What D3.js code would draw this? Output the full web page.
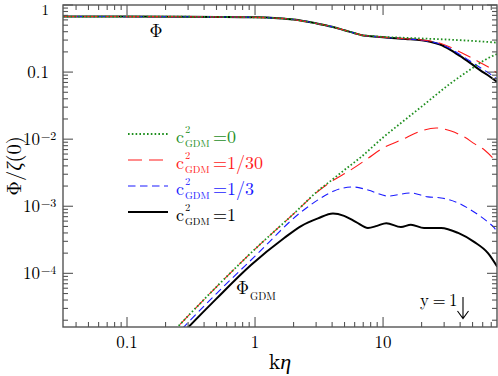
<!DOCTYPE html>
<html><head><meta charset="utf-8">
<script src="https://cdn.jsdelivr.net/npm/d3@7"></script>
<style>
body{margin:0;background:#fff}
svg{display:block}
</style>
</head><body>
<svg id="chart" width="498" height="376"></svg>
<script>
// ---------- data ----------
const seriesNames = ["c2=0", "c2=1/30", "c2=1/3", "c2=1"];
const legendValues = ["0", "1/30", "1/3", "1"];
const seriesColors = ["#1f8f1f", "#ff1a1a", "#1a1aff", "#000000"];

// Phi (upper curves)
const phiK    = [0.0316, 0.1, 0.3, 0.5, 1, 1.5, 2, 3, 4, 5, 6, 7, 8, 10, 15, 20, 23.3, 27.9, 33.3, 39.9, 47.8, 57.2, 68.4, 77.6];
const phiC0   = [0.673,0.672,0.668,0.664,0.655,0.635,0.607,0.533,0.474,0.42,0.38,0.352,0.345,0.335,0.324,0.317,0.313,0.309,0.304,0.299,0.293,0.287,0.280,0.274];
const phiC130 = [0.673,0.672,0.668,0.664,0.655,0.635,0.607,0.533,0.474,0.42,0.38,0.352,0.343,0.331,0.314,0.302,0.291,0.269,0.237,0.199,0.168,0.139,0.115,0.0969];
const phiC13  = [0.673,0.672,0.668,0.664,0.655,0.635,0.607,0.533,0.474,0.42,0.38,0.352,0.343,0.330,0.312,0.299,0.286,0.262,0.224,0.182,0.146,0.117,0.094,0.079];
const phiC1   = [0.673,0.672,0.668,0.664,0.655,0.635,0.607,0.533,0.474,0.42,0.38,0.352,0.343,0.330,0.312,0.298,0.284,0.258,0.217,0.174,0.137,0.107,0.0853,0.0719];

// Phi_GDM (lower curves)
const gdmK0 = [0.2, 0.246, 0.5, 1, 2, 3.16, 4, 5, 6.74, 10, 13.8, 20, 34, 50, 62, 78];
const gdmC0 = [1.03e-5,1.56e-5,6.3e-5,2.3e-4,7.7e-4,1.75e-3,2.48e-3,3.48e-3,5.43e-3,0.0106,0.0174,0.0306,0.0688,0.115,0.151,0.186];
const gdmK1 = [0.2, 0.246, 0.5, 1, 2, 3.16, 4, 5.6, 7.5, 10, 14, 18.8, 26, 34, 43, 52, 62, 78];
const gdmC130 = [1.03e-5,1.56e-5,6.3e-5,2.3e-4,7.7e-4,1.72e-3,2.38e-3,3.48e-3,5.07e-3,7.4e-3,9.8e-3,0.0128,0.0147,0.0132,0.0108,8.5e-3,6.9e-3,4.4e-3];
const gdmK2 = [0.2, 0.5, 1, 2.29, 3.28, 4.14, 5.83, 7.62, 10.9, 16.5, 22.4, 28.4, 38.6, 51.4, 66, 74, 78];
const gdmC13 = [8.2e-6,5.0e-5,1.8e-4,8.2e-4,1.33e-3,1.69e-3,1.94e-3,1.75e-3,1.42e-3,1.58e-3,1.38e-3,1.33e-3,1.12e-3,8.2e-4,5.8e-4,4.75e-4,4.1e-4];
const gdmK3 = [0.2, 0.3, 0.5, 0.93, 1.69, 2.29, 3.1, 4.06, 4.96, 6.16, 7.62, 8.97, 10.6, 13.8, 16.5, 20.9, 28.4, 38.6, 51.4, 66, 78];
const gdmC1 = [6.9e-6,1.56e-5,4.2e-5,1.33e-4,3.36e-4,5.07e-4,6.6e-4,7.8e-4,7.2e-4,5.8e-4,4.75e-4,5.1e-4,5.6e-4,4.9e-4,5.3e-4,4.75e-4,4.75e-4,4.0e-4,2.94e-4,2.0e-4,1.25e-4];

const xTickValues = [0.1, 1, 10];
const xTickLabels = ["0.1", "1", "10"];
const yTickValues = [1, 0.1, 1e-2, 1e-3, 1e-4];
const yTickLabels = [["1",""], ["0.1",""], ["10","\u22122"], ["10","\u22123"], ["10","\u22124"]];

// ---------- layout ----------
const FONT = "Latin Modern Roman";
const L = 63, R = 497, T = 5, B = 327;
const svg = d3.select("#chart");
const x = d3.scaleLog().domain([Math.pow(10,-1.5), Math.pow(10,1.89)]).range([L, R]);
const y = d3.scaleLog().domain([Math.pow(10,-4.8), 1]).range([B, T]);

function txt(sel, xx, yy, size, s, color){
  return sel.append("text").attr("x", xx).attr("y", yy).attr("font-family", FONT)
    .attr("font-size", size).attr("fill", color || "#000").text(s);
}

svg.append("defs").append("clipPath").attr("id","clip")
  .append("rect").attr("x",L).attr("y",T).attr("width",R-L).attr("height",B-T);

const styles = [
  {w:1.8, dash:"1.6,2.2"},
  {w:1.1, dash:"14,7"},
  {w:1.1, dash:"7.5,4.5"},
  {w:2.0, dash:null}
];

const line = d3.line().x(d=>x(d[0])).y(d=>y(d[1])).curve(d3.curveMonotoneX);
const plot = svg.append("g").attr("clip-path","url(#clip)");

const phiSets = [phiC0, phiC130, phiC13, phiC1].map(v => phiK.map((k,i)=>[k, v[i]]));
const gdmSets = [[gdmK0,gdmC0],[gdmK1,gdmC130],[gdmK2,gdmC13],[gdmK3,gdmC1]].map(([ks,vs]) => ks.map((k,i)=>[k, vs[i]]));

[3,2,1,0].forEach(i => {
  [phiSets[i], gdmSets[i]].forEach(data => {
    plot.append("path").datum(data)
      .attr("d", line)
      .attr("fill","none")
      .attr("stroke", seriesColors[i])
      .attr("stroke-width", styles[i].w)
      .attr("stroke-dasharray", styles[i].dash);
  });
});

// ---------- frame & ticks ----------
const axisColor = "#555";
const ax = svg.append("g").attr("stroke", axisColor).attr("stroke-width", 1.1);
function logTicks(scale, lo, hi){
  const out = [];
  const d = scale.domain();
  for (let e = lo; e <= hi; e++) for (let m = 1; m <= 9; m++) {
    const v = m * Math.pow(10, e);
    if (v >= d[0]*0.9999 && v <= d[1]*1.0001) out.push({v, major: m === 1});
  }
  return out;
}
logTicks(x, -2, 2).forEach(t => {
  const px = x(t.v), len = t.major ? 10 : 5;
  ax.append("line").attr("x1",px).attr("x2",px).attr("y1",B).attr("y2",B-len);
  ax.append("line").attr("x1",px).attr("x2",px).attr("y1",T).attr("y2",T+len);
});
logTicks(y, -5, 0).forEach(t => {
  const py = y(t.v), len = t.major ? 10 : 5;
  ax.append("line").attr("x1",L).attr("x2",L+len).attr("y1",py).attr("y2",py);
  ax.append("line").attr("x1",R).attr("x2",R-len).attr("y1",py).attr("y2",py);
});
svg.append("rect").attr("x",L).attr("y",T).attr("width",R-L).attr("height",B-T)
  .attr("fill","none").attr("stroke",axisColor).attr("stroke-width",1.4);

// tick labels
xTickValues.forEach((v,i) => {
  txt(svg, x(v), 348, 17, xTickLabels[i]).attr("text-anchor","middle");
});
yTickValues.forEach((v,i) => {
  const [base, exp] = yTickLabels[i];
  const py = y(v);
  if (!exp) {
    txt(svg, 49, i === 0 ? 15 : py + 5.5, i === 0 ? 15 : 17, base).attr("text-anchor","end");
  } else {
    const t = txt(svg, 23, py + 6, 17, "");
    t.append("tspan").text(base);
    t.append("tspan").attr("font-size", 12).attr("dy", -5.5).attr("dx", 1).text(exp);
  }
});

// axis titles
const xt = txt(svg, 280, 369, 22, "").attr("text-anchor","middle");
xt.append("tspan").text("k");
xt.append("tspan").attr("font-style","italic").text("\u03b7");
const yt = svg.append("text").attr("transform","translate(21,166) rotate(-90)")
  .attr("text-anchor","middle").attr("font-family", FONT).attr("font-size", 20.5);
yt.append("tspan").text("\u03a6/");
yt.append("tspan").attr("font-style","italic").text("\u03b6");
yt.append("tspan").text("(0)");

// curve labels
txt(svg, 156, 37, 18, "\u03a6").attr("text-anchor","middle");
txt(svg, 236, 294, 18, "\u03a6");
txt(svg, 250, 300, 10.5, "GDM");
txt(svg, 420, 306, 17, "y\u2009=\u20091");
svg.append("path").attr("d","M463,297 L463,318 M457.5,311 L463,318.5 L468.5,311")
  .attr("fill","none").attr("stroke","#000").attr("stroke-width",1.1);

// legend
const legendRows = [134, 160, 186, 212];
legendValues.forEach((val, i) => {
  const ly = legendRows[i];
  const c = seriesColors[i];
  svg.append("line").attr("x1",128).attr("x2",168).attr("y1",ly).attr("y2",ly)
    .attr("stroke", c).attr("stroke-width", styles[i].w)
    .attr("stroke-dasharray", styles[i].dash);
  txt(svg, 176, ly+9, 18, "c", c);
  txt(svg, 185, ly-1, 10.5, "2", c);
  txt(svg, 185, ly+12.5, 10, "GDM", c);
  txt(svg, 213, ly+9, 18, "=", c);
  txt(svg, 227, ly+9, 18, val, c);
});
</script>
</body></html>
